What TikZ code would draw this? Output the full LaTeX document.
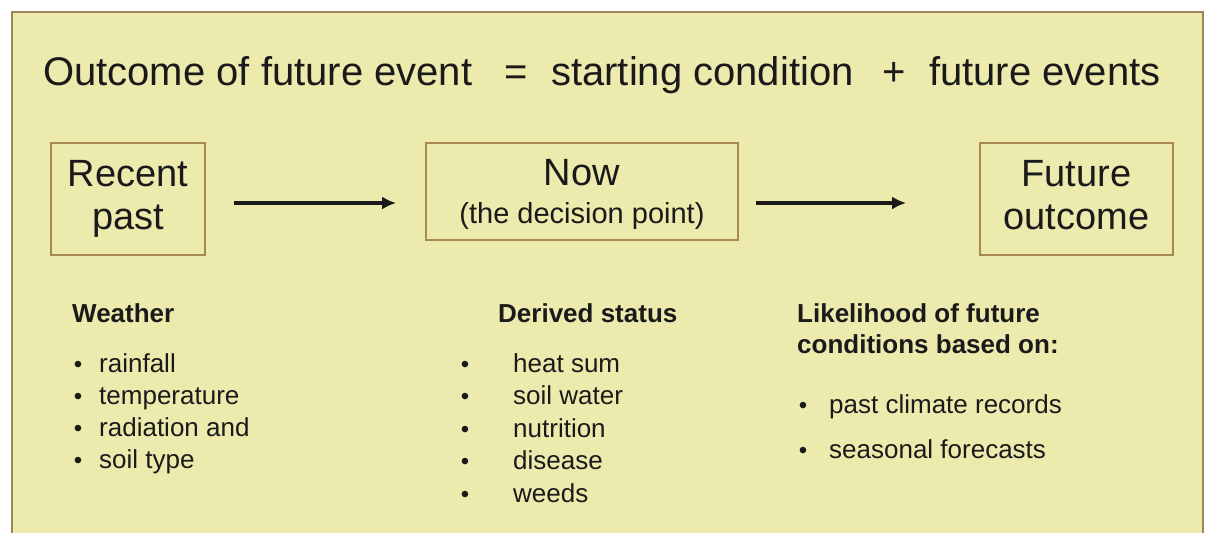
\documentclass[tikz,border=0pt]{standalone}
\usepackage{fontspec}
\setmainfont{Liberation Sans}
\usetikzlibrary{arrows.meta, positioning, calc}
\definecolor{SlideBg}{HTML}{EDEAAE}
\definecolor{FrameBrown}{HTML}{9E8457}
\definecolor{BoxBrown}{HTML}{A8894F}
\definecolor{InkDark}{HTML}{1A1A1A}

\begin{document}
\begin{tikzpicture}[x=1pt, y=-1pt, >=Latex,
    stage/.style={draw=BoxBrown, line width=1.8pt, inner sep=0pt, align=center, text=InkDark, font=\fontsize{38}{43}\selectfont},
    flow/.style={->, line width=4pt, draw=InkDark, >={Latex[length=14pt,width=13pt]}},
    titletext/.style={anchor=base west, inner sep=0pt, text=InkDark, font=\fontsize{40}{48}\selectfont},
    colhead/.style={anchor=base west, inner sep=0pt, align=left, text=InkDark, font=\fontsize{26}{31}\selectfont\bfseries},
    listitem/.style={anchor=base west, inner sep=0pt, text=InkDark, font=\fontsize{26}{31}\selectfont},
    bulletmark/.style={anchor=base, inner sep=0pt, text=InkDark, font=\fontsize{24}{30}\selectfont}]
  \useasboundingbox (0,0) rectangle (1206,533);
  \fill[white] (0,0) rectangle (1206,533);
  \fill[SlideBg] (12,12) rectangle (1203,533);
  \draw[FrameBrown, line width=2.5pt] (12,533) -- (12,12) -- (1203,12) -- (1203,533);

  % equation line
  \node[titletext] (lhs) at (43,85) {Outcome of future event};
  \node[titletext] (eqs) at (504,85) {=};
  \node[titletext] (start) at (551,85) {starting condition};
  \node[titletext] (plus) at (882,85) {+};
  \node[titletext] (fut) at (929,85) {future events};

  % the three stages
  \node[stage, minimum width=154pt, minimum height=112pt] (past) at (128,199) {Recent\\past};
  \node[stage, minimum width=312pt, minimum height=97pt, text depth=0pt] (now) at (582,191.5) {Now\\[-5pt]{\fontsize{29}{34}\selectfont(the decision point)}};
  \node[stage, minimum width=193pt, minimum height=112pt, text depth=8pt] (outc) at (1076.5,199) {Future\\outcome};

  \draw[flow] ([xshift=28pt,yshift=-4pt]past.east) -- ([xshift=-29pt,yshift=-4pt]past.east -| now.west);
  \draw[flow] ([xshift=17pt]now.east |- past.east) ++(0,4) -- ([xshift=-73pt,yshift=-4pt]outc.west);

  % what goes into each stage
  \node[colhead] (wx) at (72,322) {Weather};
  \foreach \txt [count=\i] in {rainfall, temperature, radiation and, soil type} {
    \node[bulletmark] (wb\i) at (78,{372+32.3*(\i-1)}) {\textbullet};
    \node[listitem] (wi\i) at (99,{372+32.3*(\i-1)}) {\txt};
  }

  \node[colhead] (ds) at (498,322) {Derived status};
  \foreach \txt [count=\i] in {heat sum, soil water, nutrition, disease, weeds} {
    \node[bulletmark] (db\i) at (465,{372+32.5*(\i-1)}) {\textbullet};
    \node[listitem] (di\i) at (513,{372+32.5*(\i-1)}) {\txt};
  }

  \node[colhead] (lk) at (797,353) {Likelihood of future\\conditions based on:};
  \node[bulletmark] (lb1) at (803,413) {\textbullet};
  \node[listitem] (li1) at (829,413) {past climate records};
  \node[bulletmark] (lb2) at (803,458) {\textbullet};
  \node[listitem] (li2) at (829,458) {seasonal forecasts};
\end{tikzpicture}
\end{document}
